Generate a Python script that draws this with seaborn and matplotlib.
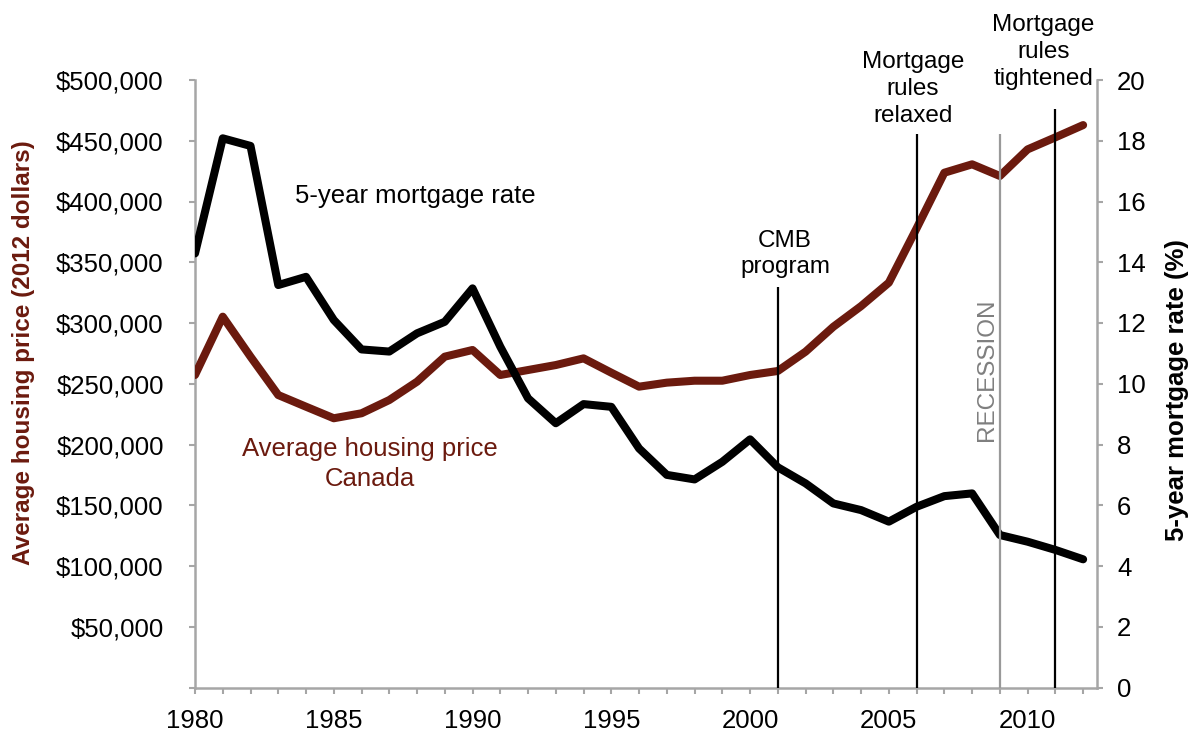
import numpy as np
import pandas as pd
import matplotlib
matplotlib.use("Agg")
import matplotlib.pyplot as plt
import seaborn as sns
from matplotlib.ticker import FuncFormatter, MultipleLocator

# Data
years = list(range(1980, 2013))
house_price = [257200, 305200, 272300, 240700, 231100, 221600, 225700, 236600, 251700, 272300,
               277800, 257200, 261300, 265400, 270900, 259100, 247600, 250900, 252500, 252500,
               257200, 260500, 276400, 296900, 313900, 333200, 377900, 423700, 430600, 421000,
               442900, 452800, 462900]
mortgage_rate = [14.29, 18.08, 17.83, 13.25, 13.52, 12.10, 11.13, 11.06, 11.66, 12.04,
                 13.14, 11.22, 9.52, 8.70, 9.33, 9.24, 7.87, 7.00, 6.85, 7.43,
                 8.17, 7.25, 6.72, 6.06, 5.84, 5.46, 5.95, 6.30, 6.39, 5.02,
                 4.80, 4.53, 4.22]

event_years = [2001, 2006, 2009, 2011]
event_labels = ["CMB\nprogram", "Mortgage\nrules\nrelaxed", "RECESSION", "Mortgage\nrules\ntightened"]

df = pd.DataFrame({"year": years, "price": house_price, "rate": mortgage_rate})

RED = "#6B1A0E"
GREY = "#A6A6A6"

sns.set_style("white")
plt.rcParams["font.family"] = ["Liberation Sans", "DejaVu Sans"]
FS = 18.5

fig = plt.figure(figsize=(11.91, 7.34), dpi=100)
ax = fig.add_axes([195 / 1191, 1 - 687.5 / 734, 902 / 1191, 607.5 / 734])
ax2 = ax.twinx()

sns.lineplot(data=df, x="year", y="price", ax=ax, color=RED, linewidth=5.8,
             solid_joinstyle="round", solid_capstyle="round", zorder=3)
sns.lineplot(data=df, x="year", y="rate", ax=ax2, color="black", linewidth=5.8,
             solid_joinstyle="round", solid_capstyle="round", zorder=3)

ax.set_xlim(1980, 2012.5)
ax.set_ylim(0, 500000)
ax2.set_ylim(0, 20)

# axes styling
for a in (ax, ax2):
    a.spines["top"].set_visible(False)
    for side in ("left", "right", "bottom"):
        a.spines[side].set_color(GREY)
        a.spines[side].set_linewidth(1.8)
ax.spines["right"].set_visible(False)
ax2.spines["left"].set_visible(False)
ax2.spines["bottom"].set_visible(False)

ax.xaxis.set_major_locator(MultipleLocator(1))
ax.xaxis.set_major_formatter(FuncFormatter(lambda v, p: f"{int(round(v))}" if round(v) % 5 == 0 else ""))
ax.yaxis.set_major_locator(MultipleLocator(50000))
ax.yaxis.set_major_formatter(FuncFormatter(lambda v, p: "" if v == 0 else f"${v:,.0f}"))
ax2.yaxis.set_major_locator(MultipleLocator(2))

ax.tick_params(axis="x", direction="out", length=4.5, width=1.5, color=GREY,
               labelsize=FS, labelcolor="black", pad=11, bottom=True)
ax.tick_params(axis="y", direction="out", length=4.5, width=1.5, color=GREY,
               labelsize=FS, labelcolor="black", pad=18, left=True)
ax2.tick_params(axis="y", direction="out", length=4.5, width=1.5, color=GREY,
                labelsize=FS, labelcolor="black", right=True, pad=10)

ax.set_xlabel("")
ax.set_ylabel("Average housing price (2012 dollars)", fontsize=17.5, fontweight="bold",
              color=RED, va="center", ha="center")
ax.yaxis.set_label_coords(-0.19, 0.552)
ax2.set_ylabel("5-year mortgage rate (%)", fontsize=FS, fontweight="bold", color="black",
               va="center", ha="center", rotation=90)
ax2.yaxis.set_label_coords(1.089, 0.49)

# event lines (drawn on rate axis)
line_tops = [13.2, 18.22, 18.22, 19.06]
line_colors = ["black", "black", "#999999", "black"]
for yr, top, c in zip(event_years, line_tops, line_colors):
    ax2.vlines(yr, 0, top, color=c, linewidth=1.6, zorder=4)

ax2.text(2001.26, 14.27, event_labels[0], ha="center", va="center", fontsize=FS - 1,
         linespacing=1.28, color="black")
ax2.text(2005.87, 19.7, event_labels[1], ha="center", va="center", fontsize=FS - 1,
         linespacing=1.28, color="black", clip_on=False)
ax2.text(2008.54, 10.45, event_labels[2], ha="center", va="center", fontsize=FS - 1,
         rotation=90, color="#7F7F7F")
ax2.text(2010.56, 20.92, event_labels[3], ha="center", va="center", fontsize=FS - 1,
         linespacing=1.28, color="black", clip_on=False)

ax2.text(1987.93, 16.18, "5-year mortgage rate", ha="center", va="center", fontsize=FS,
         color="black")
ax2.text(1986.3, 7.36, "Average housing price\nCanada", ha="center", va="center",
         fontsize=FS, color=RED, linespacing=1.3)

fig.savefig("out.png", dpi=100)
